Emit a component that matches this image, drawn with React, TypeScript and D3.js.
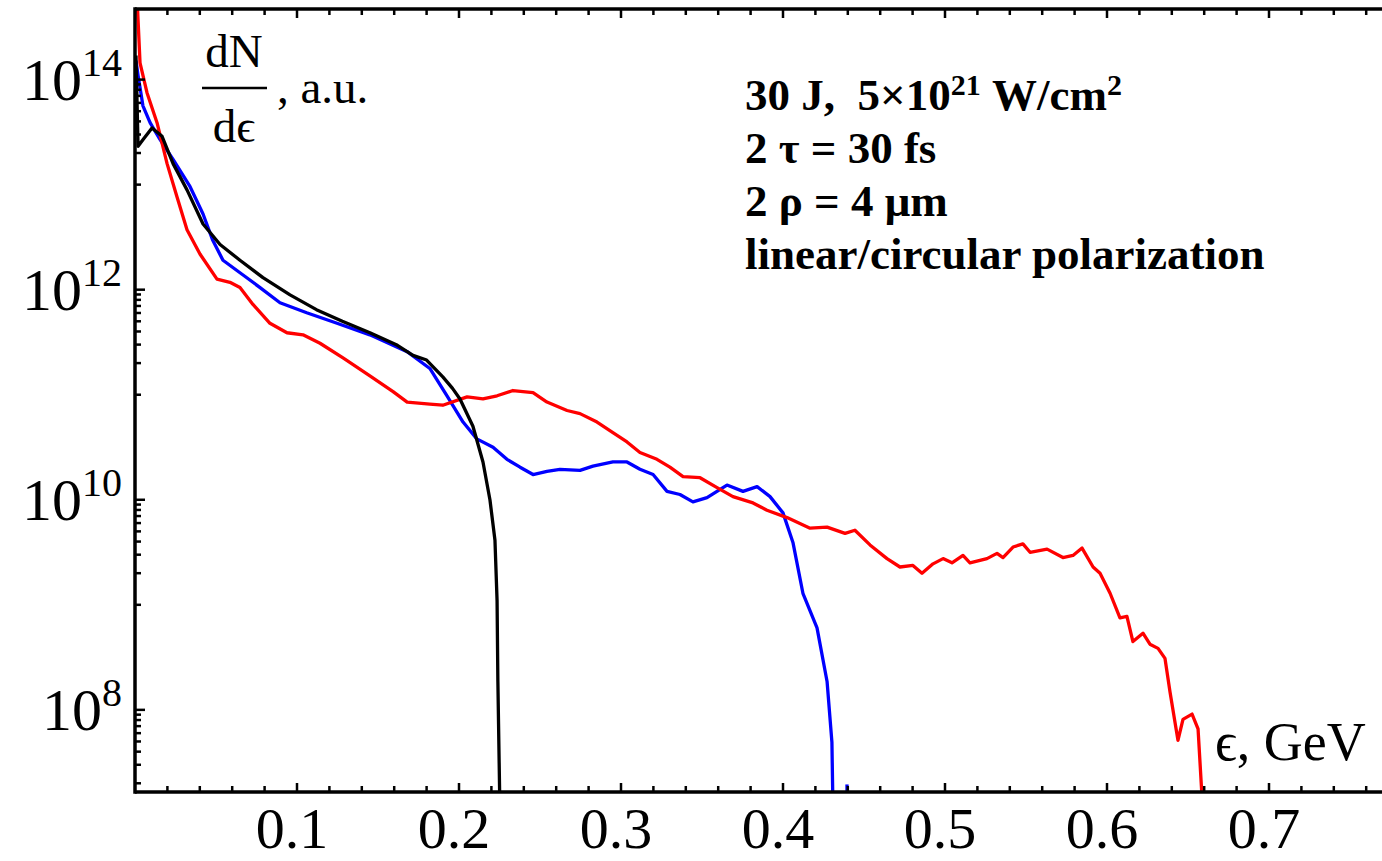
import * as d3 from "d3"
import React from "react"

// energy in GeV, value is log10 of dN/de (a.u.)
const blackSeries: [number, number][] = [
  [0.0006, 14.23], [0.0019, 13.365], [0.005, 13.43], [0.0105, 13.54], [0.0167, 13.46],
  [0.0235, 13.2], [0.0321, 12.95], [0.042, 12.625], [0.0525, 12.43], [0.0648, 12.28],
  [0.079, 12.115], [0.0957, 11.95], [0.112, 11.81], [0.128, 11.7], [0.145, 11.59],
  [0.162, 11.47], [0.1716, 11.375], [0.18, 11.33], [0.19, 11.17], [0.196, 11.06],
  [0.2006, 10.96], [0.2086, 10.7], [0.2148, 10.36], [0.2191, 10.0], [0.2222, 9.615],
  [0.2235, 9.04], [0.224, 8.27], [0.2253, 7.0],
]

const blueSeries: [number, number][] = [
  [0.0006, 14.18], [0.0019, 14.04], [0.0049, 13.75], [0.0093, 13.59], [0.0154, 13.43],
  [0.0235, 13.24], [0.034, 12.98], [0.042, 12.72], [0.048, 12.47], [0.0543, 12.28],
  [0.0667, 12.14], [0.0772, 12.02], [0.0895, 11.875], [0.106, 11.78], [0.1247, 11.68],
  [0.145, 11.57], [0.168, 11.41], [0.182, 11.25], [0.1926, 10.99], [0.2025, 10.74],
  [0.211, 10.58], [0.221, 10.5], [0.2296, 10.385], [0.2377, 10.31], [0.2457, 10.24],
  [0.2543, 10.27], [0.2623, 10.29], [0.2747, 10.28], [0.2827, 10.32], [0.295, 10.36],
  [0.3037, 10.36], [0.3117, 10.29], [0.3198, 10.24], [0.3284, 10.08], [0.3364, 10.05],
  [0.3444, 9.98], [0.3531, 10.02], [0.3654, 10.14], [0.3753, 10.08], [0.384, 10.125],
  [0.392, 10.03], [0.4, 9.875], [0.4062, 9.59], [0.4123, 9.11], [0.421, 8.78],
  [0.4272, 8.27], [0.4302, 7.69], [0.4309, 7.0],
]

const blueTail: [number, number][] = [[0.4395, 7.29], [0.4395, 7.0]]

const redSeries: [number, number][] = [
  [0.0012, 14.8], [0.0031, 14.16], [0.0074, 13.875], [0.0136, 13.59], [0.0198, 13.2],
  [0.0259, 12.885], [0.0321, 12.57], [0.0401, 12.34], [0.0506, 12.1], [0.0586, 12.07],
  [0.0648, 12.02], [0.0728, 11.86], [0.0833, 11.68], [0.0938, 11.59], [0.1037, 11.57],
  [0.1142, 11.49], [0.1284, 11.35], [0.145, 11.18], [0.1593, 11.03], [0.168, 10.93],
  [0.182, 10.91], [0.19, 10.9], [0.205, 10.98], [0.2148, 10.96], [0.2235, 10.99],
  [0.2333, 11.04], [0.2457, 11.02], [0.2543, 10.93], [0.2667, 10.85], [0.2747, 10.82],
  [0.2852, 10.74], [0.295, 10.64], [0.3037, 10.55], [0.3117, 10.45], [0.3222, 10.385],
  [0.3302, 10.31], [0.3383, 10.22], [0.3488, 10.21], [0.3593, 10.115], [0.3691, 10.03],
  [0.3815, 9.97], [0.3901, 9.9], [0.4025, 9.83], [0.4167, 9.73], [0.4272, 9.74],
  [0.4383, 9.68], [0.4444, 9.71], [0.4537, 9.57], [0.4642, 9.44], [0.4722, 9.36],
  [0.4802, 9.375], [0.4858, 9.3], [0.4926, 9.39], [0.4988, 9.44], [0.5043, 9.4],
  [0.5111, 9.47], [0.5154, 9.4], [0.5259, 9.44], [0.5321, 9.49], [0.5358, 9.45],
  [0.542, 9.55], [0.5481, 9.58], [0.5525, 9.5], [0.563, 9.53], [0.5728, 9.45],
  [0.579, 9.47], [0.5846, 9.54], [0.5914, 9.36], [0.5957, 9.3], [0.6019, 9.11],
  [0.608, 8.875], [0.6123, 8.89], [0.616, 8.65], [0.6222, 8.73], [0.6265, 8.625],
  [0.6315, 8.585], [0.6358, 8.49], [0.6389, 8.17], [0.6438, 7.71], [0.6469, 7.91],
  [0.6525, 7.96], [0.6562, 7.82], [0.6593, 7.0],
]

const xTickLabels = ["0.1", "0.2", "0.3", "0.4", "0.5", "0.6", "0.7"]
const yTickExponents = [8, 10, 12, 14]
const infoLines = ["2 τ = 30 fs", "2 ρ = 4 μm", "linear/circular polarization"]

const W = 1382
const H = 861
const left = 135
const top = 9
const bottom = 792
const serif = "'Liberation Serif', 'Times New Roman', serif"

const x = d3.scaleLinear().domain([0, 0.77]).range([left, left + 0.77 * 1620])
const y = d3.scaleLog().domain([10 ** 7.218, 10 ** 14.672]).range([bottom, top])

const line = d3
  .line<[number, number]>()
  .x((d) => x(d[0]))
  .y((d) => y(10 ** d[1]))

const xMinor = d3.range(1, 39).map((i) => ({ v: i * 0.02, major: i % 5 === 0 }))
const yMinor = yTickExponents.flatMap((e) =>
  d3.range(1, 10).map((k) => k * 10 ** (e - 1))
).filter((v) => v >= 10 ** 7.218)

const App = () => {
  return (
    <svg
      width={W}
      height={H}
      viewBox={`0 0 ${W} ${H}`}
      style={{ position: "absolute", left: 0, top: 0, background: "#fff" }}
    >
      <defs>
        <clipPath id="plot">
          <rect x={left} y={top} width={W - left} height={bottom - top} />
        </clipPath>
      </defs>

      <g clipPath="url(#plot)" fill="none" strokeWidth={3.3} strokeLinejoin="round">
        <path d={line(blueSeries) || ""} stroke="#0000ff" />
        <path d={line(blueTail) || ""} stroke="#0000ff" />
        <path d={line(redSeries) || ""} stroke="#ff0000" />
        <path d={line(blackSeries) || ""} stroke="#000" />
      </g>

      {/* frame */}
      <g stroke="#000" strokeWidth={3.5} fill="none">
        <line x1={left} x2={W} y1={top} y2={top} />
        <line x1={left} x2={W} y1={bottom} y2={bottom} />
        <line x1={left} x2={left} y1={top - 1.75} y2={bottom + 1.75} />
      </g>

      {/* x ticks, bottom and top */}
      <g stroke="#000" strokeWidth={2.5}>
        {xMinor.map((t, i) => (
          <g key={i}>
            <line x1={x(t.v)} x2={x(t.v)} y1={bottom} y2={bottom - (t.major ? 9 : 6)} />
            <line x1={x(t.v)} x2={x(t.v)} y1={top} y2={top + (t.major ? 9 : 6)} />
          </g>
        ))}
        {yTickExponents.map((e) => (
          <line key={e} x1={left} x2={left + 10} y1={y(10 ** e)} y2={y(10 ** e)} />
        ))}
        {yMinor.map((v, i) => (
          <line key={"m" + i} x1={left} x2={left + 6} y1={y(v)} y2={y(v)} />
        ))}
      </g>

      <g fontFamily={serif} fontSize={58} fill="#000">
        {xTickLabels.map((s, i) => (
          <text key={s} x={x((i + 1) * 0.1) - 5} y={848} textAnchor="middle">
            {s}
          </text>
        ))}
      </g>

      <g fontFamily={serif} fontSize={60} fill="#000">
        {yTickExponents.map((e) => (
          <text key={e} x={122} y={y(10 ** e) + 20} textAnchor="end">
            10
            <tspan fontSize={40} dy={-24}>
              {e}
            </tspan>
          </text>
        ))}
      </g>

      {/* axis labels */}
      <g fontFamily={serif} fontSize={47} fill="#000">
        <text x={234} y={67} textAnchor="middle">dN</text>
        <line x1={202} x2={267} y1={88} y2={88} stroke="#000" strokeWidth={2.5} />
        <text x={234} y={142} textAnchor="middle">dϵ</text>
        <text x={277} y={103}>, a.u.</text>
        <text x={1215} y={760} fontSize={54}>ϵ, GeV</text>
      </g>

      <g fontFamily={serif} fontSize={45} fontWeight="bold" fill="#000">
        <text x={745} y={110}>
          30 J,{"\u00a0\u00a0"}5×10
          <tspan fontSize={30} dy={-15}>21</tspan>
          <tspan dy={15}>{"\u00a0"}W/cm</tspan>
          <tspan fontSize={30} dy={-15}>2</tspan>
        </text>
        {infoLines.map((s, i) => (
          <text key={s} x={745} y={163 + i * 53}>
            {s}
          </text>
        ))}
      </g>
    </svg>
  )
}

export default App
